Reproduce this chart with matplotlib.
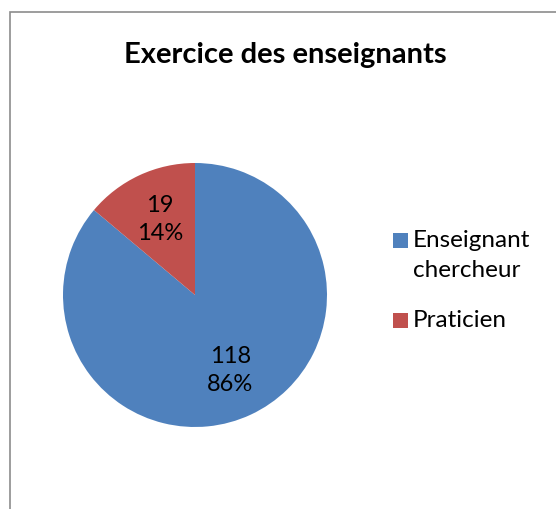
import matplotlib.pyplot as plt
import numpy as np
from matplotlib.patches import Rectangle

# data
categories = ['Enseignant\nchercheur', 'Praticien']
counts = [118, 19]
colors = ['#4F81BD', '#C0504D']
title = 'Exercice des enseignants'

plt.rcParams['font.family'] = ['Lato', 'DejaVu Sans']

W, H = 556, 509
fig = plt.figure(figsize=(W / 100, H / 100), dpi=100)

# chart frame (only left and top edges visible in the crop)
fig.patches.append(Rectangle((10 / W, -0.1), 1.2, 1.1 - 12 / H, transform=fig.transFigure,
                             fill=False, edgecolor='#8C8C8C', linewidth=1.2))

cx, cy, r = 195, 295, 132
ax = fig.add_axes([(cx - r) / W, (H - cy - r) / H, 2 * r / W, 2 * r / H])

total = sum(counts)
wedges = ax.pie(counts, colors=colors, startangle=90, counterclock=False,
                radius=1, wedgeprops=dict(linewidth=0))[0]

# data labels: value and percentage at the middle of each wedge
for w, n in zip(wedges, counts):
    ang = np.deg2rad((w.theta1 + w.theta2) / 2)
    ax.text(0.63 * np.cos(ang), 0.63 * np.sin(ang), f'{n}\n{n / total * 100:.0f}%',
            ha='center', va='center', fontsize=17, linespacing=1.4)
ax.set_xlim(-1, 1)
ax.set_ylim(-1, 1)
ax.set_aspect('equal')
ax.axis('off')

fig.text(285 / W, 1 - 63 / H, title, ha='center', va='baseline', fontsize=21, fontweight='bold')

# legend: square aligned with the first line of each entry
rows = [240, 320]
for lab, col, y in zip(categories, colors, rows):
    fig.patches.append(Rectangle((393 / W, 1 - (y + 7.5) / H), 15 / W, 15 / H,
                                 transform=fig.transFigure, facecolor=col, edgecolor='none'))
    for i, line in enumerate(lab.split('\n')):
        fig.text(413 / W, 1 - (y + 7 + 30 * i) / H, line, ha='left', va='baseline',
                 fontsize=17.5)

fig.savefig('out.png', dpi=100)
